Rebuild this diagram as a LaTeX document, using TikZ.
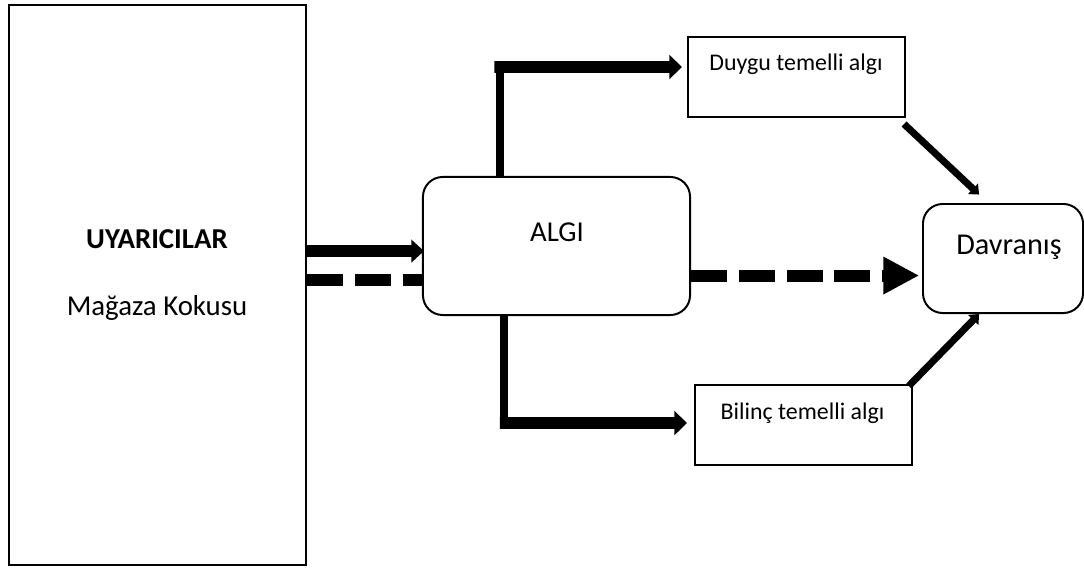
\documentclass[tikz,border=0pt]{standalone}
\usepackage{fontspec}
\setmainfont{Carlito}
\usetikzlibrary{arrows.meta, positioning, calc}

\tikzset{
  box/.style={draw, line width=1.4pt, minimum width=5.425cm, minimum height=2cm},
  roundbox/.style={draw, line width=1.4pt, rounded corners=14pt},
  stem/.style={line width=5pt},
  flow/.style={line width=8.3pt, -{Triangle[length=9pt,width=17pt]}},
  dashflow/.style={line width=8.5pt, dash pattern=on 25.5pt off 8.5pt},
  link/.style={line width=5pt, -{Triangle[length=6pt,width=10pt]}},
  bigtxt/.style={font=\fontsize{20.5pt}{24pt}\selectfont, anchor=base},
  smalltxt/.style={font=\fontsize{17pt}{20pt}\selectfont, anchor=base}
}

\begin{document}
\begin{tikzpicture}[x=0.025cm, y=0.025cm]
      \useasboundingbox (0,0) rectangle (1084,-571);
      % boxes
      \node[draw, line width=1.4pt, minimum width=7.425cm, minimum height=14cm]
        (uyari) at (157.5,-285) {};
      \node[roundbox, minimum width=6.675cm, minimum height=3.45cm]
        (algi) at (556.5,-246) {};
      \node[box] (duygu) at (796.5,-77) {};
      \node[box] (bilinc) at (803.5,-425) {};
      \node[roundbox, minimum width=4cm, minimum height=2.725cm]
        (davranis) at (1003,-258.5) {};
      % texts
      \node[bigtxt, font=\fontsize{20.5pt}{24pt}\selectfont\bfseries]
        (uyarititle) at (157,-248) {UYARICILAR};
      \node[bigtxt] (uyarisub) at (157,-315) {Mağaza Kokusu};
      \node[bigtxt] (algitext) at (557,-241) {ALGI};
      \node[bigtxt, font=\fontsize{21.5pt}{24pt}\selectfont]
        (davranistext) at (1009,-254) {Davranış};
      \node[smalltxt] (duygutext) at (796,-71) {Duygu temelli algı};
      \node[smalltxt] (bilinctext) at (802.5,-419) {Bilinç temelli algı};
      % input arrows
      \draw[flow, -{Triangle[length=9pt,width=16pt]}]
        ([yshift=-3.6pt]uyari.east |- algi.west) -- ([yshift=-3.6pt,xshift=1.4pt]algi.west);
      \draw[dashflow] ([yshift=-24pt]uyari.east |- algi.west) -- ([yshift=-24pt]algi.west);
      % forks
      \coordinate (upfork) at (500,-67);
      \coordinate (downfork) at (504,-423);
      \draw[stem] (algi.north -| upfork) -- ([yshift=-3pt]upfork);
      \draw[flow] ([xshift=-4pt]upfork) -- ([xshift=-3.6pt,yshift=7.1pt]duygu.west);
      \draw[stem] (algi.south -| downfork) -- ([yshift=3pt]downfork);
      \draw[flow] ([xshift=-3pt]downfork) -- ([xshift=-5pt,yshift=1.4pt]bilinc.west);
      % to behaviour
      \draw[dashflow, -{Triangle[length=25.5pt,width=25pt]}]
        ([yshift=-21pt]algi.east) -- ([yshift=-21pt,xshift=-2pt]algi.east -| davranis.west);
      \draw[link] ([xshift=-1.4pt,yshift=-4.3pt]duygu.south east)
        -- ([xshift=-17pt,yshift=6pt]davranis.north);
      \draw[link] ([xshift=-3pt,yshift=-1.4pt]bilinc.north east)
        -- ([xshift=-17pt]davranis.south);
\end{tikzpicture}
\end{document}
